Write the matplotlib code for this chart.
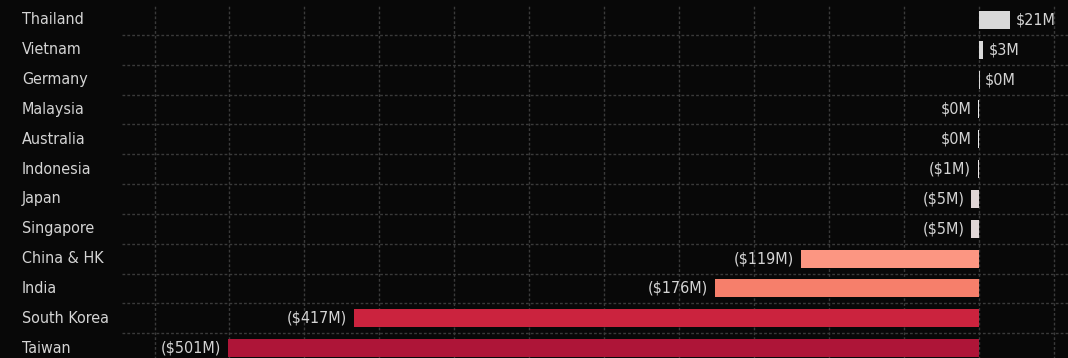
import matplotlib
matplotlib.use('Agg')
import matplotlib.pyplot as plt
from matplotlib.ticker import MultipleLocator

countries = ['Thailand', 'Vietnam', 'Germany', 'Malaysia', 'Australia', 'Indonesia',
             'Japan', 'Singapore', 'China & HK', 'India', 'South Korea', 'Taiwan']
net_flows = [21, 3, 0.4, -0.4, -0.4, -0.8, -5, -5, -119, -176, -417, -501]
bar_colors = ['#d9d9d9', '#d9d9d9', '#d9d9d9', '#ececec', '#ececec', '#ebe6e6',
              '#e0d6d6', '#e0d6d6', '#fc9682', '#f67f6b', '#cb233e', '#ae1538']

BG = '#080808'
GRID = '#3a3a3a'
TEXT = '#d4d4d4'

plt.rcParams['font.family'] = ['DejaVu Sans']
plt.rcParams['font.stretch'] = 'condensed'


def money(v):
    r = int(round(abs(v)))
    return '($%dM)' % r if v < 0 and r > 0 else '$%dM' % r


fig = plt.figure(figsize=(10.68, 3.58), dpi=100, facecolor=BG)
ax = fig.add_axes([122 / 1068, -5 / 358, 946 / 1068, 358 / 358], facecolor=BG)

rows = range(len(countries))
ax.barh(rows, net_flows, height=0.6, color=bar_colors)

ax.set_xlim(-571.7, 59.4)
ax.set_ylim(len(countries) - 0.5, -0.5)

ax.xaxis.set_major_locator(MultipleLocator(50))
ax.set_yticks([i + 0.5 for i in rows])
ax.grid(True, color=GRID, linestyle=(0, (2, 1.5)), linewidth=1.0)
ax.set_axisbelow(True)
ax.tick_params(length=0, labelbottom=False, labelleft=False)
for s in ax.spines.values():
    s.set_visible(False)

for i, (name, v) in enumerate(zip(countries, net_flows)):
    ax.annotate(name, xy=(22 / 1068, i), xycoords=('figure fraction', 'data'),
                va='center', ha='left', color=TEXT, fontsize=11.5, fontstretch='condensed')
    if v > 0:
        ax.annotate(money(v), xy=(v, i), xytext=(4, 0), textcoords='offset points',
                    va='center', ha='left', color=TEXT, fontsize=11.5, fontstretch='condensed')
    else:
        ax.annotate(money(v), xy=(v, i), xytext=(-5, 0), textcoords='offset points',
                    va='center', ha='right', color=TEXT, fontsize=11.5, fontstretch='condensed')

fig.savefig('out.png', dpi=100, facecolor=BG)
